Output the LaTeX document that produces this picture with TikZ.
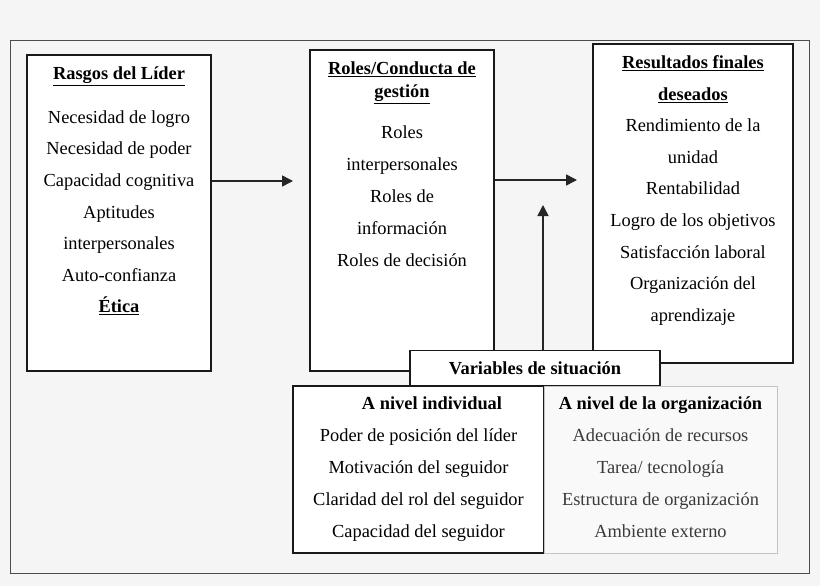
\documentclass[tikz,border=0pt]{standalone}
\usepackage{fontspec}
\setmainfont{Liberation Serif}
\usetikzlibrary{arrows.meta,positioning}
\definecolor{paper}{HTML}{F5F5F5}
\definecolor{softline}{HTML}{C4C4C4}
\definecolor{softtext}{HTML}{3A3A3A}

\begin{document}
\begin{tikzpicture}[x=1pt,y=-1pt,
    box/.style={draw=black!90,line width=1.5pt,fill=white,inner sep=0pt},
    txt/.style={align=center,inner sep=0pt,anchor=north,font=\fontsize{18.4}{31.6}\selectfont},
    head/.style={inner sep=0pt,anchor=base,font=\fontsize{18.4}{23}\selectfont\bfseries},
    flow/.style={-{Triangle[length=11pt,width=11pt]},line width=1.6pt,black!85}]
    \useasboundingbox[fill=paper] (0,0) rectangle (820,586);
    \draw[black!70,line width=0.9pt] (10,40) rectangle (809,573);

    % top row
    \node[box,minimum width=184pt,minimum height=316pt] (lider) at (119,213) {};
    \node[box,minimum width=184pt,minimum height=321pt] (roles) at (402,210.5) {};
    \node[box,minimum width=200pt,minimum height=319pt] (result) at (693,203.5) {};

    \node[head] (liderhead) at (119,80) {\underline{Rasgos del Líder}};
    \node[txt] (lideritems) at (119,110.4) {Necesidad de logro\\Necesidad de poder\\Capacidad cognitiva\\Aptitudes\\interpersonales\\Auto-confianza\\\textbf{\underline{Ética}}};
    \node[head,anchor=north,align=center] (roleshead) at (402,61.4) {\underline{Roles/Conducta de}\\\underline{gestión}};
    \node[txt,font=\fontsize{18.4}{32}\selectfont] (rolesitems) at (402,125.4) {Roles\\interpersonales\\Roles de\\información\\Roles de decisión};
    \node[txt] (resultitems) at (693,55.4) {\textbf{\underline{Resultados finales}}\\\textbf{\underline{deseados}}\\Rendimiento de la\\unidad\\Rentabilidad\\Logro de los objetivos\\Satisfacción laboral\\Organización del\\aprendizaje};

    % situation variables
    \node[box,minimum width=251pt,minimum height=167pt] (indiv) at (418.5,469.5) {};
    \node[box,draw=softline,line width=0.9pt,fill=paper!60!white,minimum width=233pt,minimum height=167pt] (orga) at (660.5,469.5) {};
    \node[box,minimum width=250pt,minimum height=35pt] (vars) at (535,368) {};
    \node[head] (varshead) at (535,374) {Variables de situación};

    \node[head] (indivhead) at (432,409) {A nivel individual};
    \node[txt,font=\fontsize{18.4}{32}\selectfont] (indivitems) at (418.5,428.4) {Poder de posición del líder\\Motivación del seguidor\\Claridad del rol del seguidor\\Capacidad del seguidor};
    \node[head] (orgahead) at (660.5,409) {A nivel de la organización};
    \node[txt,text=softtext,font=\fontsize{18.4}{32}\selectfont] (orgaitems) at (660.5,428.4) {Adecuación de recursos\\Tarea/ tecnología\\Estructura de organización\\Ambiente externo};

    % connectors
    \coordinate (tipa) at (293,181);
    \coordinate (tipb) at (577,180);
    \coordinate (tipc) at (543,205);
    \draw[flow] (lider.east |- tipa) -- (tipa);
    \draw[flow] (roles.east |- tipb) -- (tipb);
    \draw[flow] (vars.north -| tipc) -- (tipc);
\end{tikzpicture}
\end{document}
